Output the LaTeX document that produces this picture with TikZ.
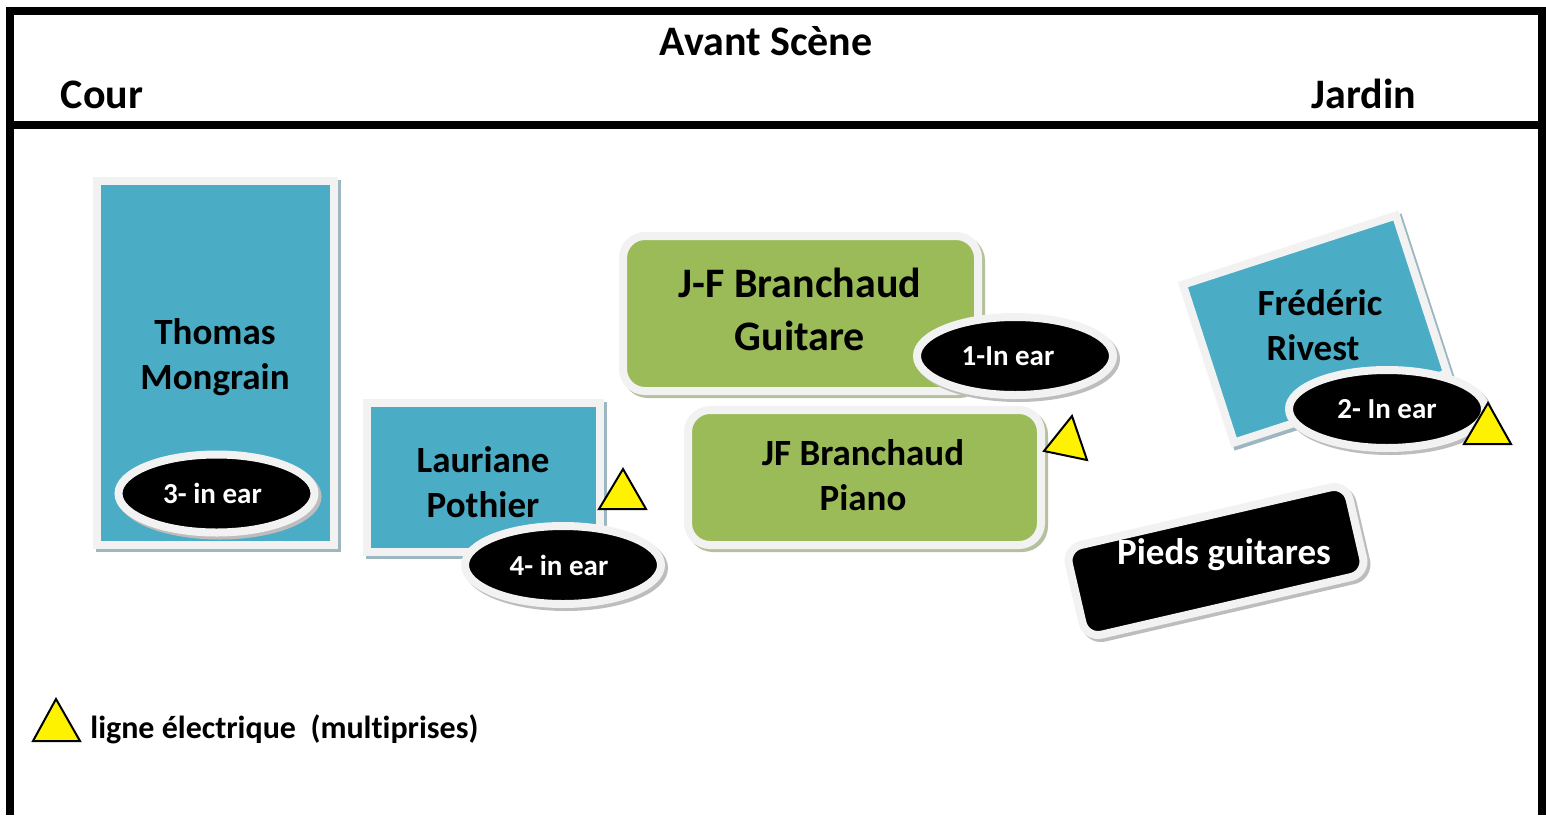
\documentclass[tikz,border=0pt]{standalone}
\usepackage{fontspec}
\setmainfont[Ligatures=NoCommon]{Carlito}
\usetikzlibrary{shapes.geometric,shadows}
\definecolor{bleu}{HTML}{4BACC6}
\definecolor{vert}{HTML}{9BBB59}
\definecolor{bord}{HTML}{F2F2F2}
\definecolor{ombrebleue}{HTML}{9DB7C1}
\definecolor{ombreverte}{HTML}{B5C09C}
\definecolor{ombregrise}{HTML}{BDBDBD}
\tikzstyle{musicien} = [draw=bord, fill=bleu, rectangle, line width=4pt,
    drop shadow={shadow xshift=1.5pt, shadow yshift=-1.5pt, opacity=1,
    fill=ombrebleue, draw=ombrebleue, line width=4pt}]
\tikzstyle{pupitre} = [draw=bord, fill=vert, rectangle, rounded corners=11pt, line width=4pt,
    drop shadow={shadow xshift=1.5pt, shadow yshift=-1.5pt, opacity=1,
    fill=ombreverte, draw=ombreverte, line width=4pt}]
\tikzstyle{pieds} = [draw=bord, fill=black, rectangle, rounded corners=8pt, line width=4pt,
    drop shadow={shadow xshift=1.5pt, shadow yshift=-1.5pt, opacity=1,
    fill=ombregrise, draw=ombregrise, line width=4pt}]
\tikzstyle{inear} = [draw=bord, fill=black, ellipse, line width=4pt, inner sep=0pt,
    minimum width=98pt, minimum height=39pt, text=white,
    font=\bfseries\fontsize{14.5}{17}\selectfont,
    drop shadow={shadow xshift=1.5pt, shadow yshift=-1.5pt, opacity=1,
    fill=ombregrise, draw=ombregrise, line width=4pt}]
\tikzstyle{nom} = [align=center, inner sep=0pt, font=\bfseries\fontsize{18.5}{22.5}\selectfont]
\tikzstyle{titre} = [anchor=base, inner sep=0pt, font=\bfseries\fontsize{21}{25}\selectfont]
\tikzstyle{prise} = [draw=black, fill=yellow, line width=1pt, line join=miter]

\begin{document}
\begin{tikzpicture}[x=0.5pt, y=-0.5pt]
    \useasboundingbox (0,0) rectangle (1546,815);
    \draw [line width=4pt, line join=miter] (10,815) -- (10,11) -- (1542,11) -- (1542,815);
    \draw [line width=4pt] (10,125) -- (1542,125);
    \node [titre] (scene) at (766,55) {Avant Scène};
    \node [titre] (cour) at (102,108) {Cour};
    \node [titre] (jardin) at (1364,108) {Jardin};

    \node [musicien, minimum width=118.5pt, minimum height=182pt] (thomas) at (215.5,363) {};
    \node [nom] (thomasnom) at (215,357) {Thomas\\Mongrain};
    \node [inear] (ear3) at (216.5,493.5) {3- in ear\hspace*{4pt}};

    \node [musicien, minimum width=116.5pt, minimum height=74.5pt] (lauriane) at (483.5,477.5) {};
    \node [nom] (laurianenom) at (483,482) {Lauriane\\Pothier};
    \node [inear] (ear4) at (563,565) {4- in ear\hspace*{4pt}};
    \draw [prise] (623,469) -- (599,509) -- (646,509) -- cycle;

    \node [pupitre, minimum width=177.5pt, minimum height=77.5pt] (guitare) at (800.5,313.5) {};
    \node [nom, font=\bfseries\fontsize{21}{26.5}\selectfont] (guitarenom) at (800,309) {J-F Branchaud\\Guitare};
    \node [inear] (ear1) at (1015,356) {1-In ear\hspace*{7pt}};

    \node [pupitre, minimum width=176.5pt, minimum height=67.5pt] (piano) at (864.5,477.5) {};
    \node [nom] (pianonom) at (863,475) {JF Branchaud\\Piano};
    \draw [prise] (1072,416) -- (1044,451) -- (1087,460) -- cycle;

    \node [musicien, minimum width=112pt, minimum height=83pt, rotate=18] (frederic) at (1315,329) {};
    \node [nom] (fredericnom) at (1320,325) {Frédéric\\Rivest\hspace*{7pt}};
    \node [inear] (ear2) at (1387,409) {2- In ear};
    \draw [prise] (1488,403) -- (1464,444) -- (1511,444) -- cycle;

    \node [pieds, minimum width=144pt, minimum height=46pt, rotate=13] (supports) at (1216,561) {};
    \node [nom, anchor=base, text=white] (supportsnom) at (1224,564) {Pieds guitares};

    \draw [prise] (56,699) -- (33,741) -- (80,741) -- cycle;
    \node [anchor=base west, inner sep=0pt, font=\bfseries\fontsize{16}{19}\selectfont] (legende) at (90,738) {ligne électrique~~(multiprises)};
\end{tikzpicture}
\end{document}
